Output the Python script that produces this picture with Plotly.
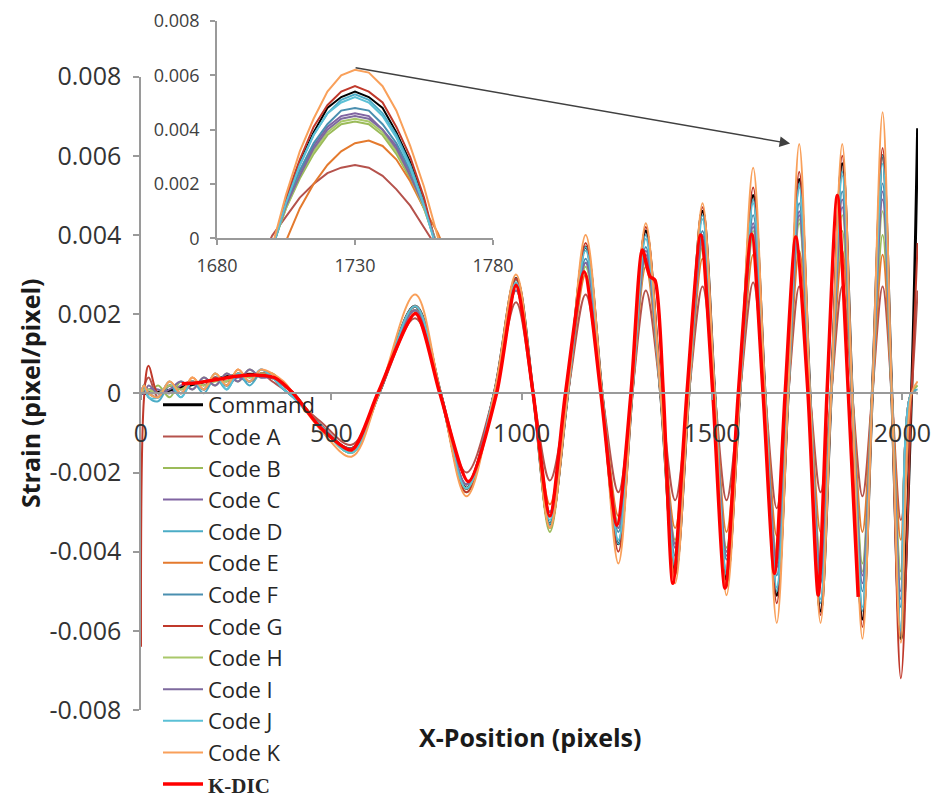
import plotly.graph_objects as go

# ---------------- data ----------------
X_MAIN = [0, 8, 20, 45, 75, 105, 135, 165, 195, 225, 255, 285, 315, 345, 375, 400,
          470, 553, 625, 720, 787, 855, 928, 985, 1030, 1074, 1121, 1168, 1211, 1254,
          1290, 1326, 1365, 1403, 1439, 1475, 1507, 1538, 1573, 1608, 1639, 1670, 1700,
          1729, 1757, 1785, 1813, 1842, 1868, 1895, 1921, 1948, 1972, 1996, 2024, 2040]

Y_COMMAND = [0, 0, 0.00001, 0.00003, 0.00008, 0.00015, 0.00022, 0.00029, 0.00036, 0.00042, 0.00046, 0.00048, 0.00046, 0.0004, 0.00022, 0,
             -0.0008, -0.0014, 0, 0.0022, 0, -0.0024, 0, 0.0029, 0, -0.0033, 0, 0.0037, 0, -0.0038, 0, 0.0041, 0, -0.0045, 0, 0.0046, 0, -0.0047, 0, 0.0050, 0, -0.0051, 0, 0.0054, 0, -0.0055, 0, 0.0058, 0, -0.0057, 0, 0.0060, 0, -0.0062, 0, 0.0067]
Y_CODE_A = [0, 0.0002, 0.0004, -0.0001, 0.0002, 0.0, 0.0003, 0.0001, 0.0004, 0.0002, 0.0005, 0.0003, 0.0005, 0.0003, 0.0001, -0.0001,
            -0.0007, -0.0013, 0, 0.0019, 0, -0.0020, 0, 0.0023, 0, -0.0022, 0, 0.0025, 0, -0.0025, 0, 0.0026, 0, -0.0027, 0, 0.0027, 0, -0.0027, 0, 0.0028, 0, -0.0029, 0, 0.0027, 0, -0.0025, 0, 0.0027, 0, -0.0026, 0, 0.0027, 0, -0.0032, 0, 0.0026]
Y_CODE_B = [0, 0.0001, 0.0, 0.0002, -0.0001, 0.0003, 0.0001, 0.0004, 0.0002, 0.0005, 0.0003, 0.0006, 0.0004, 0.0005, 0.0002, 0.0,
            -0.0008, -0.0015, 0, 0.0022, 0, -0.0025, 0, 0.0028, 0, -0.0035, 0, 0.0032, 0, -0.0033, 0, 0.0034, 0, -0.0037, 0, 0.0037, 0, -0.0039, 0, 0.0040, 0, -0.0041, 0, 0.0043, 0, -0.0042, 0, 0.0041, 0, -0.0043, 0, 0.0040, 0, -0.0045, 0, 0.0002]
Y_CODE_C = [0, 0.0, 0.0001, 0.0001, 0.0, 0.0002, 0.0003, 0.0001, 0.0004, 0.0002, 0.0004, 0.0003, 0.0006, 0.0004, 0.0002, 0.0,
            -0.0008, -0.0014, 0, 0.0021, 0, -0.0023, 0, 0.0027, 0, -0.0030, 0, 0.0033, 0, -0.0034, 0, 0.0036, 0, -0.0039, 0, 0.0040, 0, -0.0041, 0, 0.0043, 0, -0.0044, 0, 0.0046, 0, -0.0046, 0, 0.0049, 0, -0.0048, 0, 0.0051, 0, -0.0052, 0, 0.0]
Y_CODE_D = [0, 0.0002, -0.0001, -0.0002, 0.0002, -0.0001, 0.0003, 0.0, 0.0004, 0.0001, 0.0005, 0.0002, 0.0005, 0.0004, 0.0001, -0.0001,
            -0.0008, -0.0015, 0, 0.0022, 0, -0.0024, 0, 0.0029, 0, -0.0033, 0, 0.0037, 0, -0.0038, 0, 0.0040, 0, -0.0044, 0, 0.0045, 0, -0.0046, 0, 0.0049, 0, -0.0050, 0, 0.0053, 0, -0.0053, 0, 0.0056, 0, -0.0055, 0, 0.0060, 0, -0.0060, 0, 0.0001]
Y_CODE_E = [0, 0.0001, 0.0, -0.0001, 0.0003, 0.0, 0.0004, 0.0001, 0.0005, 0.0002, 0.0006, 0.0003, 0.0005, 0.0005, 0.0002, 0.0,
            -0.0008, -0.0014, 0, 0.0021, 0, -0.0023, 0, 0.0026, 0, -0.0028, 0, 0.0030, 0, -0.0031, 0, 0.0032, 0, -0.0034, 0, 0.0034, 0, -0.0035, 0, 0.0035, 0, -0.0036, 0, 0.0036, 0, -0.0035, 0, 0.0036, 0, -0.0035, 0, 0.0035, 0, -0.0037, 0, 0.0]
Y_CODE_F = [0, 0.0002, 0.0, -0.0001, 0.0002, 0.0, 0.0003, 0.0001, 0.0004, 0.0002, 0.0005, 0.0003, 0.0005, 0.0004, 0.0001, -0.0001,
            -0.0008, -0.0014, 0, 0.0021, 0, -0.0023, 0, 0.0027, 0, -0.0031, 0, 0.0034, 0, -0.0035, 0, 0.0037, 0, -0.0041, 0, 0.0041, 0, -0.0042, 0, 0.0045, 0, -0.0046, 0, 0.0048, 0, -0.0048, 0, 0.0051, 0, -0.0050, 0, 0.0053, 0, -0.0054, 0, 0.0]
Y_CODE_G = [-0.0064, -0.0001, 0.0007, 0.0, 0.0002, 0.0001, 0.0003, 0.0002, 0.0004, 0.0003, 0.0005, 0.0004, 0.0005, 0.0004, 0.0002, 0.0,
            -0.0008, -0.0014, 0, 0.0022, 0, -0.0025, 0, 0.0029, 0, -0.0034, 0, 0.0038, 0, -0.0040, 0, 0.0042, 0, -0.0046, 0, 0.0047, 0, -0.0049, 0, 0.0052, 0, -0.0053, 0, 0.0056, 0, -0.0056, 0, 0.0060, 0, -0.0059, 0, 0.0062, 0, -0.0072, 0, 0.0038]
Y_CODE_H = [0, 0.0001, 0.0001, 0.0, 0.0002, 0.0001, 0.0003, 0.0002, 0.0003, 0.0003, 0.0005, 0.0004, 0.0005, 0.0004, 0.0002, 0.0,
            -0.0008, -0.0015, 0, 0.0021, 0, -0.0024, 0, 0.0027, 0, -0.0034, 0, 0.0032, 0, -0.0034, 0, 0.0034, 0, -0.0038, 0, 0.0038, 0, -0.0040, 0, 0.0041, 0, -0.0043, 0, 0.0044, 0, -0.0044, 0, 0.0045, 0, -0.0045, 0, 0.0046, 0, -0.0047, 0, 0.0]
Y_CODE_I = [0, 0.0, 0.0002, 0.0, 0.0001, 0.0003, 0.0001, 0.0004, 0.0002, 0.0005, 0.0003, 0.0006, 0.0004, 0.0004, 0.0002, 0.0,
            -0.0008, -0.0014, 0, 0.0021, 0, -0.0023, 0, 0.0026, 0, -0.0030, 0, 0.0033, 0, -0.0034, 0, 0.0035, 0, -0.0038, 0, 0.0039, 0, -0.0040, 0, 0.0042, 0, -0.0043, 0, 0.0045, 0, -0.0045, 0, 0.0047, 0, -0.0046, 0, 0.0049, 0, -0.0050, 0, 0.0]
Y_CODE_J = [0, 0.0002, -0.0001, -0.0001, 0.0003, -0.0001, 0.0003, 0.0001, 0.0005, 0.0001, 0.0005, 0.0003, 0.0006, 0.0004, 0.0001, -0.0001,
            -0.0008, -0.0015, 0, 0.0022, 0, -0.0024, 0, 0.0028, 0, -0.0032, 0, 0.0036, 0, -0.0037, 0, 0.0039, 0, -0.0043, 0, 0.0044, 0, -0.0045, 0, 0.0048, 0, -0.0049, 0, 0.0052, 0, -0.0052, 0, 0.0055, 0, -0.0054, 0, 0.0058, 0, -0.0059, 0, 0.0]
Y_CODE_K = [0, 0.0002, 0.0, -0.0001, 0.0003, 0.0, 0.0004, 0.0001, 0.0005, 0.0002, 0.0006, 0.0003, 0.0006, 0.0005, 0.0003, 0.0,
            -0.0009, -0.0016, 0, 0.0025, 0, -0.0026, 0, 0.0030, 0, -0.0034, 0, 0.0040, 0, -0.0043, 0, 0.0043, 0, -0.0048, 0, 0.0048, 0, -0.0051, 0, 0.0057, 0, -0.0058, 0, 0.0063, 0, -0.0058, 0, 0.0063, 0, -0.0062, 0, 0.0071, 0, -0.0063, 0, 0.0003]

X_KDIC = [107, 150, 200, 250, 307, 350, 400, 470, 553, 622, 721, 785, 860, 934, 985, 1030, 1074,
          1115, 1164, 1208, 1250, 1287, 1317, 1337, 1350, 1372, 1397, 1434, 1470, 1502, 1534,
          1569, 1604, 1634, 1664, 1692, 1720, 1752, 1779, 1802, 1829, 1858, 1884]
Y_KDIC = [0.00024, 0.00027, 0.00035, 0.00043, 0.00046, 0.0004, 0.0, -0.00085, -0.00143, 0, 0.00202, 0, -0.00223, 0, 0.00273, 0, -0.0031,
          0, 0.00307, 0, -0.00333, 0, 0.00362, 0.00295, 0.00286, 0, -0.0048, 0, 0.0040, 0, -0.00492,
          0, 0.00402, 0, -0.00455, 0, 0.00395, 0, -0.0051, 0, 0.0050, 0, -0.00514]

# inset (zoom on the peak near x = 1730)
X_INSET = [1695, 1700, 1705, 1710, 1715, 1720, 1725, 1730, 1735, 1740, 1745, 1750, 1755, 1760, 1765]
IN_COMMAND = [-0.0024, -0.0004, 0.0014, 0.0028, 0.0039, 0.0048, 0.0052, 0.0054, 0.0052, 0.0048, 0.0039, 0.0028, 0.0014, -0.0004, -0.0024]
IN_CODE_A = [-0.0010, 0.0001, 0.0008, 0.0015, 0.0020, 0.0024, 0.0026, 0.0027, 0.0026, 0.0023, 0.0018, 0.0012, 0.0004, -0.0004, -0.0012]
IN_CODE_B = [-0.0019, -0.0003, 0.0011, 0.0022, 0.0031, 0.0038, 0.0042, 0.0043, 0.0042, 0.0038, 0.0031, 0.0022, 0.0011, -0.0003, -0.0019]
IN_CODE_C = [-0.0021, -0.0003, 0.0012, 0.0024, 0.0034, 0.0041, 0.0045, 0.0046, 0.0045, 0.0040, 0.0034, 0.0024, 0.0012, -0.0003, -0.0021]
IN_CODE_D = [-0.0024, -0.0004, 0.0013, 0.0027, 0.0038, 0.0046, 0.0051, 0.0053, 0.0051, 0.0046, 0.0038, 0.0027, 0.0013, -0.0004, -0.0024]
IN_CODE_E = [-0.0025, -0.0012, -0.0001, 0.0011, 0.0020, 0.0027, 0.0032, 0.0035, 0.0036, 0.0034, 0.0029, 0.0021, 0.0011, 0.0002, -0.0010]
IN_CODE_F = [-0.0022, -0.0004, 0.0012, 0.0025, 0.0035, 0.0042, 0.0047, 0.0048, 0.0047, 0.0042, 0.0035, 0.0025, 0.0012, -0.0003, -0.0022]
IN_CODE_G = [-0.0025, -0.0004, 0.0015, 0.0029, 0.0041, 0.0049, 0.0054, 0.0056, 0.0054, 0.0050, 0.0041, 0.0030, 0.0015, -0.0003, -0.0025]
IN_CODE_H = [-0.0020, -0.0003, 0.0011, 0.0023, 0.0032, 0.0039, 0.0043, 0.0044, 0.0043, 0.0039, 0.0032, 0.0023, 0.0011, -0.0003, -0.0020]
IN_CODE_I = [-0.0020, -0.0003, 0.0012, 0.0023, 0.0033, 0.0040, 0.0044, 0.0045, 0.0044, 0.0040, 0.0033, 0.0023, 0.0012, -0.0003, -0.0020]
IN_CODE_J = [-0.0023, -0.0004, 0.0013, 0.0027, 0.0038, 0.0046, 0.0050, 0.0052, 0.0050, 0.0045, 0.0037, 0.0026, 0.0012, -0.0004, -0.0023]
IN_CODE_K = [-0.0025, -0.0003, 0.0016, 0.0032, 0.0044, 0.0054, 0.0060, 0.0062, 0.0061, 0.0056, 0.0047, 0.0034, 0.0019, 0.0002, -0.0018]

SERIES_NAMES = ["Command", "Code A", "Code B", "Code C", "Code D", "Code E", "Code F",
                "Code G", "Code H", "Code I", "Code J", "Code K"]
MAIN_VALUES = [Y_COMMAND, Y_CODE_A, Y_CODE_B, Y_CODE_C, Y_CODE_D, Y_CODE_E, Y_CODE_F,
               Y_CODE_G, Y_CODE_H, Y_CODE_I, Y_CODE_J, Y_CODE_K]
INSET_VALUES = [IN_COMMAND, IN_CODE_A, IN_CODE_B, IN_CODE_C, IN_CODE_D, IN_CODE_E, IN_CODE_F,
                IN_CODE_G, IN_CODE_H, IN_CODE_I, IN_CODE_J, IN_CODE_K]

Y_TICKS = [-0.008, -0.006, -0.004, -0.002, 0, 0.002, 0.004, 0.006, 0.008]
Y_TICK_TEXT = ["-0.008", "-0.006", "-0.004", "-0.002", "0", "0.002", "0.004", "0.006", "0.008"]
X_TICKS = [0, 500, 1000, 1500, 2000]
X_TICK_TEXT = ["0", "500", "1000", "1500", "2000"]
IN_X_TICKS = [1680, 1730, 1780]
IN_Y_TICKS = [0, 0.002, 0.004, 0.006, 0.008]
IN_Y_TICK_TEXT = ["0", "0.002", "0.004", "0.006", "0.008"]

for v in MAIN_VALUES:
    assert len(v) == len(X_MAIN), len(v)
for v in INSET_VALUES:
    assert len(v) == len(X_INSET), len(v)
assert len(X_KDIC) == len(Y_KDIC)

# ---------------- styling ----------------
COLORS = ["#000000", "#B5524C", "#9BBB59", "#8064A2", "#4BACC6", "#E47A2E", "#4A8FB0",
          "#C0392B", "#A9C86A", "#7E6A9E", "#5BC0D6", "#F9A05A"]
WIDTHS = [3, 2, 2, 2, 2, 2, 2, 2, 2, 2, 2, 2]
FONT = "Open Sans"
W, H = 933, 800
L, R, T, B = 141, 15, 15, 90
PW, PH = W - L - R, H - T - B
MAIN_TOP = (710 - 76.7) / PH

fig = go.Figure()
for name, vals, col, wd in zip(SERIES_NAMES, MAIN_VALUES, COLORS, WIDTHS):
    fig.add_trace(go.Scatter(x=X_MAIN, y=vals, name=name, mode="lines",
                             line=dict(color=col, width=wd, shape="spline", smoothing=1.0),
                             xaxis="x", yaxis="y"))
fig.add_trace(go.Scatter(x=X_KDIC, y=Y_KDIC, mode="lines",
                         name='<b><span style="font-family:Liberation Serif;font-size:21px">K-DIC</span></b>',
                         line=dict(color="#FF0000", width=3.5, shape="spline", smoothing=0.7),
                         xaxis="x", yaxis="y"))
for name, vals, col in zip(SERIES_NAMES, INSET_VALUES, COLORS):
    fig.add_trace(go.Scatter(x=X_INSET, y=vals, name=name, mode="lines", showlegend=False,
                             line=dict(color=col, width=2),
                             xaxis="x2", yaxis="y2"))

axis_col = "#9a9a9a"
fig.update_layout(
    width=W, height=H, autosize=False,
    margin=dict(l=L, r=R, t=T, b=B, pad=0, autoexpand=False),
    paper_bgcolor="white", plot_bgcolor="rgba(0,0,0,0)",
    font=dict(family=FONT, color="#333333"),
    showlegend=True,
    legend=dict(x=(158 - L) / PW, y=(710 - 384) / PH, xanchor="left", yanchor="top",
                bgcolor="rgba(0,0,0,0)", borderwidth=0, itemwidth=40,
                font=dict(family=FONT, size=22, color="#262626"),
                traceorder="normal", tracegroupgap=0),
    xaxis=dict(domain=[0, 1], range=[0, 2041], anchor="free", position=MAIN_TOP / 2,
               showgrid=False, zeroline=False, showline=True, linecolor=axis_col, linewidth=1.5,
               ticks="outside", ticklen=6, tickcolor=axis_col, tickwidth=1.5,
               ticklabelstandoff=12,
               tickvals=X_TICKS, ticktext=X_TICK_TEXT,
               tickfont=dict(family=FONT, size=25, color="#333333")),
    yaxis=dict(domain=[0, MAIN_TOP], range=[-0.008, 0.008], anchor="x",
               showgrid=False, zeroline=False, showline=True, linecolor=axis_col, linewidth=1.5,
               ticks="outside", ticklen=6, tickcolor=axis_col, tickwidth=1.5,
               ticklabelstandoff=7,
               tickvals=Y_TICKS, ticktext=Y_TICK_TEXT,
               tickfont=dict(family=FONT, size=25, color="#333333")),
    xaxis2=dict(domain=[(217 - L) / PW, (493 - L) / PW], range=[1680, 1780], anchor="y2",
                showgrid=False, zeroline=False, showline=True, linecolor=axis_col, linewidth=1.5,
                ticks="outside", ticklen=5, tickcolor=axis_col, tickwidth=1.5,
                ticklabelstandoff=5,
                tickvals=IN_X_TICKS, ticktext=[str(t) for t in IN_X_TICKS],
                tickfont=dict(family=FONT, size=18, color="#404040")),
    yaxis2=dict(domain=[(710 - 238.3) / PH, (710 - 21) / PH], range=[0, 0.008], anchor="x2",
                showgrid=False, zeroline=False, showline=True, linecolor=axis_col, linewidth=1.5,
                ticks="outside", ticklen=5, tickcolor=axis_col, tickwidth=1.5,
                ticklabelstandoff=7,
                tickvals=IN_Y_TICKS, ticktext=IN_Y_TICK_TEXT,
                tickfont=dict(family=FONT, size=18, color="#404040")),
    annotations=[
        dict(x=1705, y=0.00631, xref="x", yref="y", ax=-436, ay=-76, axref="pixel", ayref="pixel",
             text="", showarrow=True, arrowhead=2, arrowsize=1.4, arrowwidth=1.5, arrowcolor="#404040"),
        dict(x=(30 - L) / PW, y=(710 - 393) / PH, xref="paper", yref="paper", showarrow=False,
             text="<b>Strain (pixel/pixel)</b>", textangle=-90, xanchor="center", yanchor="middle",
             font=dict(family=FONT, size=25, color="#1a1a1a")),
        dict(x=(530 - L) / PW, y=(710 - 737) / PH, xref="paper", yref="paper", showarrow=False,
             text="<b>X-Position (pixels)</b>", xanchor="center", yanchor="middle",
             font=dict(family=FONT, size=25, color="#1a1a1a")),
    ],
)

fig.write_html("out.html")
